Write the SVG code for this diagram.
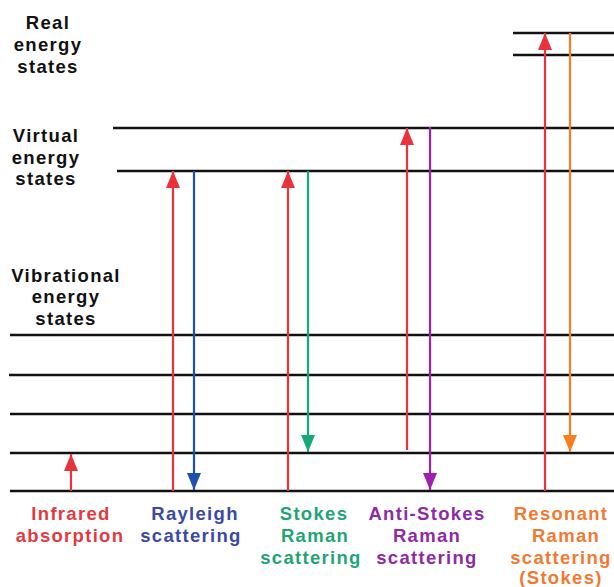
<svg xmlns="http://www.w3.org/2000/svg" width="614" height="587" viewBox="0 0 614 587">
<style>
.lvl{stroke:#111;stroke-width:2.5;fill:none}
.t{font-family:"Liberation Sans",Arial,sans-serif;font-weight:bold;font-size:18.5px;letter-spacing:1.3px;text-anchor:middle}
.k{fill:#111}
.ln{stroke-width:2.2;fill:none}
.red{stroke:#e8323c}.blue{stroke:#1d4fb5}.green{stroke:#16a877}.purple{stroke:#a01fb0}.orange{stroke:#f57f20}
</style>
<defs>
<marker id="hb" markerWidth="14" markerHeight="17" refX="7" refY="17" orient="0" markerUnits="userSpaceOnUse" viewBox="0 0 14 17"><path d="M0,0 L14,0 L7,17 Z" fill="#1d4fb5"/></marker>
<marker id="hg" markerWidth="14" markerHeight="17" refX="7" refY="17" orient="0" markerUnits="userSpaceOnUse" viewBox="0 0 14 17"><path d="M0,0 L14,0 L7,17 Z" fill="#16a877"/></marker>
<marker id="hp" markerWidth="14" markerHeight="17" refX="7" refY="17" orient="0" markerUnits="userSpaceOnUse" viewBox="0 0 14 17"><path d="M0,0 L14,0 L7,17 Z" fill="#a01fb0"/></marker>
<marker id="ho" markerWidth="14" markerHeight="17" refX="7" refY="17" orient="0" markerUnits="userSpaceOnUse" viewBox="0 0 14 17"><path d="M0,0 L14,0 L7,17 Z" fill="#f57f20"/></marker>
<marker id="hu" markerWidth="14" markerHeight="17" refX="7" refY="0" orient="0" markerUnits="userSpaceOnUse" viewBox="0 0 14 17"><path d="M7,0 L14,17 L0,17 Z" fill="#e8323c"/></marker>
</defs>
<rect width="614" height="587" fill="#fff"/>
<g id="levels">
<line class="lvl" x1="513" y1="33" x2="614" y2="33"/>
<line class="lvl" x1="513" y1="55" x2="614" y2="55"/>
<line class="lvl" x1="113" y1="128" x2="614" y2="128"/>
<line class="lvl" x1="117" y1="171" x2="614" y2="171"/>
<line class="lvl" x1="10" y1="335" x2="614" y2="335"/>
<line class="lvl" x1="9" y1="375" x2="614" y2="375"/>
<line class="lvl" x1="10" y1="414" x2="614" y2="414"/>
<line class="lvl" x1="10" y1="453" x2="614" y2="453"/>
<line class="lvl" x1="10" y1="491" x2="614" y2="491"/>
</g>
<g id="labels-left" class="t k">
<text x="48" y="29">Real</text>
<text x="48" y="51">energy</text>
<text x="48" y="73">states</text>
<text x="46" y="142">Virtual</text>
<text x="46" y="164">energy</text>
<text x="46" y="185">states</text>
<text x="66" y="282">Vibrational</text>
<text x="66" y="303">energy</text>
<text x="66" y="325">states</text>
</g>
<g id="connectors">
<line class="ln red" x1="71" y1="491" x2="71" y2="454" marker-end="url(#hu)"/>
<line class="ln red" x1="173" y1="491" x2="173" y2="171" marker-end="url(#hu)"/>
<line class="ln blue" x1="194" y1="171" x2="194" y2="490" marker-end="url(#hb)"/>
<line class="ln red" x1="288" y1="491" x2="288" y2="171" marker-end="url(#hu)"/>
<line class="ln green" x1="308" y1="171" x2="308" y2="452" marker-end="url(#hg)"/>
<line class="ln red" x1="407" y1="450" x2="407" y2="128" marker-end="url(#hu)"/>
<line class="ln purple" x1="430" y1="127" x2="430" y2="490" marker-end="url(#hp)"/>
<line class="ln red" x1="545" y1="491" x2="545" y2="33" marker-end="url(#hu)"/>
<line class="ln orange" x1="570" y1="33" x2="570" y2="452" marker-end="url(#ho)"/>
</g>
<g id="infrared" class="t" fill="#e23a3f">
<text x="71" y="520">Infrared</text>
<text x="70" y="542">absorption</text>
</g>
<g id="rayleigh" class="t" fill="#3b4aa5">
<text x="195" y="520">Rayleigh</text>
<text x="191" y="542">scattering</text>
</g>
<g id="stokes" class="t" fill="#1fa475">
<text x="314" y="520">Stokes</text>
<text x="315" y="542">Raman</text>
<text x="311" y="564">scattering</text>
</g>
<g id="antistokes" class="t" fill="#8f2aa5">
<text x="427" y="520">Anti-Stokes</text>
<text x="427" y="542">Raman</text>
<text x="427" y="564">scattering</text>
</g>
<g id="resonant" class="t" fill="#f27a30">
<text x="561" y="520">Resonant</text>
<text x="566" y="542">Raman</text>
<text x="561" y="564">scattering</text>
<text x="561" y="584">(Stokes)</text>
</g>
</svg>
